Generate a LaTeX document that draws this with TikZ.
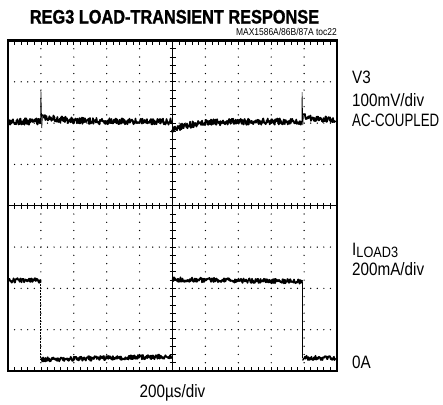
\documentclass[tikz,border=0pt]{standalone}
\usepackage{fontspec}
\setmainfont{Liberation Sans}[FakeStretch=0.85]
\newfontfamily\titlefont{Liberation Sans Bold}[FakeStretch=0.84, FakeBold=1.2]
\newfontfamily\capsfont{Liberation Sans}[FakeStretch=0.74]
\usetikzlibrary{calc}
\tikzset{
	frame/.style={line width=2.6bp},
	axisline/.style={line width=0.8bp},
	trace/.style={line width=1.7bp, line join=round},
	edge/.style={line width=0.6bp},
	lbl/.style={inner sep=0pt, anchor=base west, font=\fontsize{18}{18}\selectfont}
}
\newcommand{\noisyseg}[4]{
	\pgfmathtruncatemacro{\nsamp}{2*(#2-#1)+1}
	\draw[trace] plot[domain=#1:#2, samples=\nsamp, variable=\x] (\x, {#3 + #4*rand});
}
\newcommand{\griddot}[2]{
	\fill (#1,#2) circle (0.7bp);
}

\begin{document}
\begin{tikzpicture}[x=1bp, y=-1bp]
	\useasboundingbox (0,0) rectangle (443,404);
	\pgfmathsetseed{7}
%
	\node[inner sep=0pt, anchor=base, font=\titlefont\fontsize{19.5}{19.5}\selectfont] (title) at (174.5,23.5) {REG3 LOAD-TRANSIENT RESPONSE};
	\node[inner sep=0pt, anchor=base east, font=\fontsize{10}{10}\selectfont] (tag) at (337,35.5) {MAX1586A/86B/87A toc22};
%
	% dotted divisions
	\foreach \i in {1,2,3,4,6,7,8,9} {
		\foreach \k in {1,...,39} {
			\griddot{{8+32.9*\i}}{{40.5+41.3125*\k/5}}
		}
	}
	\foreach \j in {1,2,3,5,6,7} {
		\foreach \k in {1,...,49} {
			\griddot{{8+32.9*\k/5}}{{40.5+41.3125*\j}}
		}
	}
%
	% centre axes with minor ticks
	\draw[axisline] (172.5,40.5) -- (172.5,371);
	\draw[axisline] (8,205.75) -- (337,205.75);
	\foreach \k in {1,...,39} {
		\draw[axisline] (169.5,{40.5+41.3125*\k/5}) -- ++(6,0);
	}
	\foreach \k in {1,...,49} {
		\draw[axisline] ({8+32.9*\k/5},202.75) -- ++(0,6);
		\draw[axisline] ({8+32.9*\k/5},40.5) -- ++(0,4);
		\draw[axisline] ({8+32.9*\k/5},371) -- ++(0,-4);
	}
%
	% V3 trace
	\noisyseg{8.5}{40.5}{121.5}{3.2}
	\noisyseg{42.4}{172}{121.5-5*exp(-(\x-42)/22)}{3.2}
	\noisyseg{172}{301.8}{121.5+9*exp(-(\x-172)/18)}{3.2}
	\noisyseg{303.4}{335.5}{121.5-5*exp(-(\x-303)/22)}{3.2}
	\draw[edge] (40.5,122) -- (40.9,90) -- (41.8,128) -- (42.4,117);
	\draw[edge] (301.8,121.5) -- (302.1,92) -- (302.8,125) -- (303.4,116);
%
	% load current trace
	\noisyseg{8.5}{40.7}{280.5}{2.3}
	\noisyseg{40.7}{172.5}{359.5-3*(\x-41)/131}{2.3}
	\noisyseg{172.5}{302.5}{279.5+2*(\x-173)/129}{2.3}
	\noisyseg{302.5}{335.5}{358}{2.3}
	\draw[edge, dash pattern=on 2bp off 1bp] (40.7,280.5) -- (40.7,359.5);
	\draw[edge] (172.5,356.5) -- (172.5,279.5);
	\draw[edge, line width=0.9bp] (302.5,281.5) -- (302.5,358);
%
	\draw[frame] (8,40.5) rectangle (337,371);
%
	\node[lbl] (vthree) at (352,83.3) {V3};
	\node[lbl] (vscale) at (352,106.7) {100mV/div};
	\node[lbl, font=\capsfont\fontsize{18}{18}\selectfont] (vcoupling) at (352,126.7) {AC-COUPLED};
	\node[lbl] (iload) at (352,255) {I\raisebox{-2bp}{\fontsize{15}{15}\selectfont LOAD3}};
	\node[lbl] (iscale) at (352,275.5) {200mA/div};
	\node[lbl] (izero) at (352,368) {0A};
	\node[lbl, anchor=base] (tscale) at (172.5,397) {200µs/div};
\end{tikzpicture}
\end{document}
